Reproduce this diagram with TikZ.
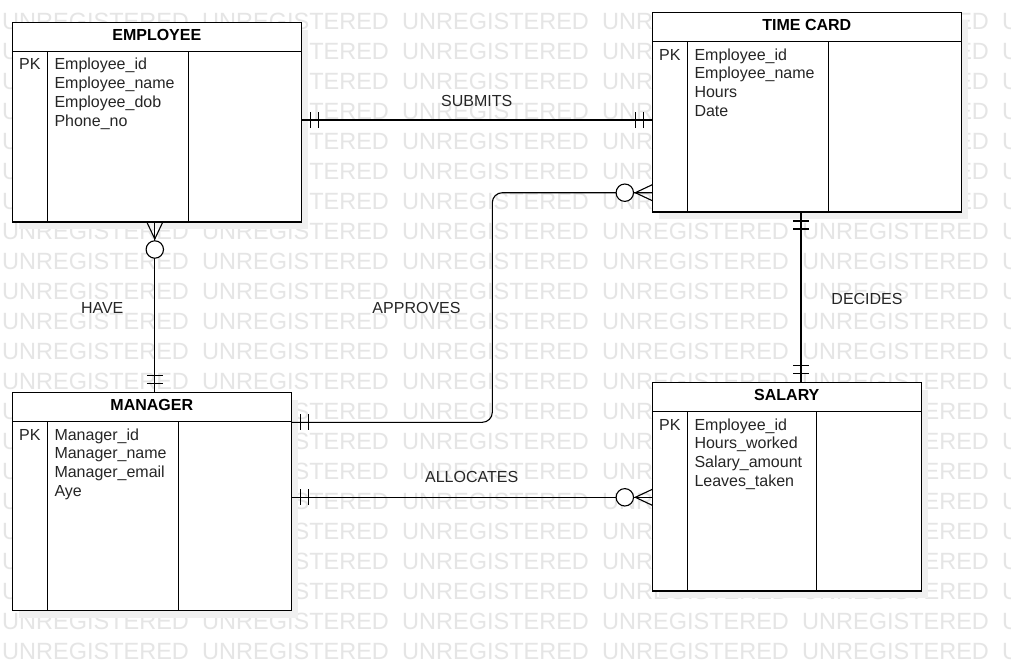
\documentclass[tikz,border=0pt]{standalone}
\usepackage{fontspec}
\setmainfont{Liberation Sans}
\usetikzlibrary{calc}
\tikzset{
  wm/.style={text=black!10, font=\fontsize{23.5}{26}\selectfont, inner sep=0pt, anchor=west},
  shadowc/.style={fill=black!6},
  entbox/.style={draw=black, fill=white, line width=1.3pt, inner sep=0pt, outer sep=0pt},
  entline/.style={draw=black, line width=1.3pt},
  titletxt/.style={font=\bfseries\fontsize{16}{19}\selectfont, inner sep=0pt},
  fieldtxt/.style={font=\fontsize{16}{18.67}\selectfont, inner sep=0pt, text=black!85},
  lbltxt/.style={font=\fontsize{16}{19}\selectfont, inner sep=0pt, anchor=base, text=black!85},
  conn/.style={draw=black, line width=1.1pt},
  mandone/.pic={\draw[conn] (9,-8) -- (9,8); \draw[conn] (17,-8) -- (17,8);},
  zeromany/.pic={\draw[conn] (0,-8) -- (17,0) -- (0,8); \draw[conn, fill=white] (27.5,0) circle[radius=8.7pt];}
}
\newcommand\drawentity[8]{%
  \fill[shadowc] (#2+7,#3+7) rectangle (#2+#4+7,#3+#5+7);
  \node[entbox, minimum width=#4pt, minimum height=#5pt, anchor=north west] (#1) at (#2,#3) {};
  \draw[entline] (#2,#3+28.6) -- (#2+#4,#3+28.6);
  \draw[entline] (#2+35.4,#3+28.6) -- (#2+35.4,#3+#5);
  \draw[entline] (#2+#6,#3+28.6) -- (#2+#6,#3+#5);
  \node[titletxt, anchor=base] (#1-title) at (#2+#4/2,#3+18.2) {#7};
  \node[fieldtxt, anchor=base west] (#1-pk) at (#2+6.7,#3+47.3) {PK};
  \foreach \f [count=\i from 0] in {#8} \node[fieldtxt, anchor=base west] (#1-f\i) at (#2+42,#3+47.3+18.67*\i) {\f};
}
\begin{document}
\begin{tikzpicture}[x=1pt,y=-1pt]
\useasboundingbox (0,0) rectangle (1011,661);
\fill[white] (0,0) rectangle (1011,661);
% watermark
\foreach \r in {0,...,21}{
  \foreach \c in {0,...,5}{
    \node[wm] (wm-\r-\c) at (2+200*\c, 21+30*\r) {UNREGISTERED};
  }
}
% entities
\drawentity{emp}{12.3}{22.7}{289}{199.3}{176}{EMPLOYEE}{Employee\_id,Employee\_name,Employee\_dob,Phone\_no}
\drawentity{tc}{652.3}{12.7}{309}{199.3}{176}{TIME CARD}{Employee\_id,Employee\_name,Hours,Date}
\drawentity{mgr}{12.3}{392.7}{279}{218}{166}{MANAGER}{Manager\_id,Manager\_name,Manager\_email,Aye}
\drawentity{sal}{652.3}{382.7}{269}{208.3}{164}{SALARY}{Employee\_id,Hours\_worked,Salary\_amount,Leaves\_taken}
% helper coordinates
\coordinate (ySub) at (0,120);
\coordinate (yApA) at (0,422.3);
\coordinate (yApB) at (0,192.7);
\coordinate (xApBend) at (492.3,0);
\coordinate (yAll) at (0,497.3);
\coordinate (xHave) at (154.8,0);
\coordinate (xDec) at (801,0);
% connectors
\draw[conn] (emp.east |- ySub) -- (tc.west |- ySub);
\draw[conn, rounded corners=10pt] (mgr.east |- yApA) -| (xApBend |- yApB) -- (tc.west |- yApB);
\draw[conn] (mgr.east |- yAll) -- (sal.west |- yAll);
\draw[conn] (xHave |- emp.south) -- (xHave |- mgr.north);
\draw[conn] (xDec |- tc.south) -- (xDec |- sal.north);
% ends
\pic at (emp.east |- ySub) {mandone};
\pic[rotate=180] at (tc.west |- ySub) {mandone};
\pic at (mgr.east |- yApA) {mandone};
\pic[rotate=180] at (tc.west |- yApB) {zeromany};
\pic at (mgr.east |- yAll) {mandone};
\pic[rotate=180] at (sal.west |- yAll) {zeromany};
\pic[rotate=-90] at (xHave |- emp.south) {zeromany};
\pic[rotate=90] at (xHave |- mgr.north) {mandone};
\pic[rotate=-90] at (xDec |- tc.south) {mandone};
\pic[rotate=90] at (xDec |- sal.north) {mandone};
% labels
\node[lbltxt] (lblSub) at (476.7,106) {SUBMITS};
\node[lbltxt] (lblHave) at (102.2,313.3) {HAVE};
\node[lbltxt] (lblAppr) at (416.5,313.3) {APPROVES};
\node[lbltxt] (lblAll) at (471.7,482.3) {ALLOCATES};
\node[lbltxt] (lblDec) at (867,304) {DECIDES};
\end{tikzpicture}
\end{document}
